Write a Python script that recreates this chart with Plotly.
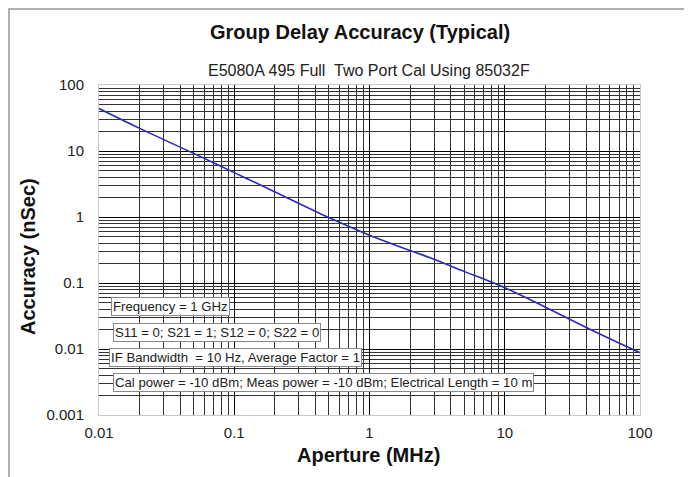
import plotly.graph_objects as go

aperture_mhz = [0.01, 0.02, 0.05, 0.1, 0.2, 0.5, 1, 2, 3, 5, 7, 10, 20, 50, 100]
accuracy_ns = [44, 22, 9.2, 4.7, 2.4, 0.98, 0.53, 0.31, 0.23, 0.15, 0.115, 0.085, 0.043, 0.017, 0.0088]

x_ticks = [0.01, 0.1, 1, 10, 100]
x_tick_labels = ["0.01", "0.1", "1", "10", "100"]
y_ticks = [0.001, 0.01, 0.1, 1, 10, 100]
y_tick_labels = ["0.001", "0.01", "0.1", "1", "10", "100"]
minor_steps = [2, 3, 4, 5, 6, 7, 8, 9]

notes = [
    "Frequency = 1 GHz",
    "S11 = 0; S21 = 1; S12 = 0; S22 = 0",
    "IF Bandwidth  = 10 Hz, Average Factor = 1",
    "Cal power = -10 dBm; Meas power = -10 dBm; Electrical Length = 10 m",
]

# page body has an 8px margin; work in reference-pixel coordinates and shift
OFF = 8
W, H = 692 - OFF, 477 - OFF
PL, PR, PT, PB = 99, 640, 85, 415  # plot area in reference pixels
L, R, T, B = PL - OFF, (W + OFF) - PR, PT - OFF, (H + OFF) - PB
pw, ph = PR - PL, PB - PT

def px_x(x):
    return (x - PL) / pw

def px_y(y):
    return (PB - y) / ph

font = "Liberation Sans, Arial, sans-serif"

x_minor = [d * m for d in x_ticks[:-1] for m in minor_steps]
y_minor = [d * m for d in y_ticks[:-1] for m in minor_steps]

fig = go.Figure()
fig.add_trace(go.Scatter(x=aperture_mhz, y=accuracy_ns, mode="lines",
                         line=dict(color="#2b2bb8", width=1.6, shape="spline"),
                         showlegend=False, hoverinfo="skip"))

axis_common = dict(
    type="log", showgrid=True, gridcolor="#000000", gridwidth=1.3,
    showline=True, linecolor="#c8c8c8", mirror=True, ticks="", zeroline=False,
    automargin=False,
    tickfont=dict(family=font, size=15, color="#222"),
)

fig.update_xaxes(**axis_common, range=[-2, 2], tickvals=x_ticks, ticktext=x_tick_labels,
                 ticklabelstandoff=4,
                 minor=dict(tickvals=x_minor, showgrid=True, gridcolor="#333333", gridwidth=1, ticks=""))
fig.update_yaxes(**axis_common, range=[-3, 2], tickvals=y_ticks, ticktext=y_tick_labels,
                 ticklabelstandoff=11,
                 minor=dict(tickvals=y_minor, showgrid=True, gridcolor="#333333", gridwidth=1, ticks=""))

annotations = [
    dict(text="E5080A 495 Full  Two Port Cal Using 85032F", xref="paper", yref="paper",
         x=px_x(369), y=px_y(70), showarrow=False, xanchor="center", yanchor="middle",
         font=dict(family=font, size=16, color="#222")),
    dict(text="<b>Aperture (MHz)</b>", xref="paper", yref="paper",
         x=px_x(368), y=px_y(455), showarrow=False, xanchor="center", yanchor="middle",
         font=dict(family=font, size=20, color="#111")),
    dict(text="<b>Accuracy (nSec)</b>", xref="paper", yref="paper", textangle=-90,
         x=px_x(28), y=px_y(257), showarrow=False, xanchor="center", yanchor="middle",
         font=dict(family=font, size=20, color="#111")),
    dict(text="<b>Group Delay Accuracy (Typical)</b>", xref="paper", yref="paper",
         x=px_x(360), y=px_y(32), showarrow=False, xanchor="center", yanchor="middle",
         font=dict(family=font, size=20, color="#111")),
]
note_y = [306, 332, 357, 382]
note_x = [111, 113, 109, 113]
for txt, yy, xx in zip(notes, note_y, note_x):
    annotations.append(dict(text=txt, xref="paper", yref="paper", x=px_x(xx), y=px_y(yy),
                            showarrow=False, xanchor="left", yanchor="middle",
                            bgcolor="white", bordercolor="#888", borderwidth=1, borderpad=1,
                            font=dict(family=font, size=13.2, color="#222")))

fig.update_layout(
    width=W, height=H, margin=dict(l=L, r=R, t=T, b=B),
    paper_bgcolor="white", plot_bgcolor="white",
    annotations=annotations,
    shapes=[dict(type="rect", xref="paper", yref="paper",
                 x0=px_x(9), x1=px_x(686), y0=px_y(480), y1=px_y(9),
                 line=dict(color="#b0b0b0", width=2), layer="above")],
)

fig.write_html("out.html")
